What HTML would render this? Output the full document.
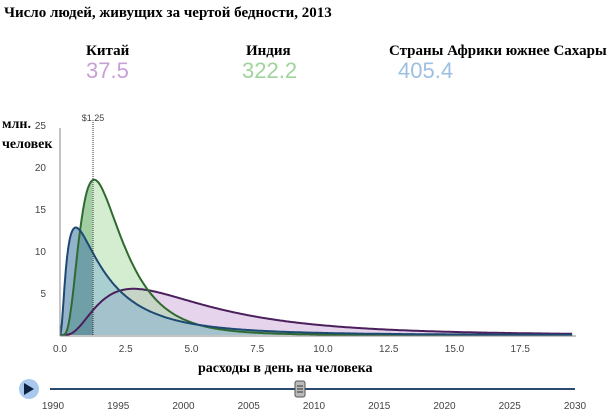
<!DOCTYPE html>
<html><head><meta charset="utf-8"><style>
body{margin:0;background:#fff;width:614px;height:415px;overflow:hidden;font-family:"Liberation Serif",serif}
.t{position:absolute;font-weight:bold;color:#000}
.n{position:absolute;font-family:"Liberation Sans",sans-serif;font-size:22px}
</style></head><body>
<div class="t" style="left:4px;top:5px;font-size:15px">Число людей, живущих за чертой бедности, 2013</div>
<div class="t" style="left:86px;top:43px;font-size:15px">Китай</div>
<div class="t" style="left:246px;top:43px;font-size:15px">Индия</div>
<div class="t" style="left:389px;top:43px;font-size:15px">Страны Африки южнее Сахары</div>
<div class="n" style="left:86px;top:58px;color:#c9a0d6">37.5</div>
<div class="n" style="left:242px;top:58px;color:#9fd49a">322.2</div>
<div class="n" style="left:398px;top:58px;color:#9dbfe0">405.4</div>
<div class="t" style="left:2px;top:117px;font-size:14px">млн.</div>
<div class="t" style="left:2px;top:137px;font-size:14px">человек</div>
<div class="t" style="left:198px;top:361px;font-size:14px">расходы в день на человека</div>
<svg id="s" width="614" height="415" style="position:absolute;left:0;top:0" font-family="Liberation Sans,sans-serif" font-size="10" fill="#444"></svg>
<script>
var s=document.getElementById('s'),X0=60,XS=26.3,Y0=335,YS=8.4,h='';
function px(x){return X0+x*XS}function py(y){return Y0-y*YS}
function curve(mode,sg,peak,xmax){var mu=Math.log(mode)+sg*sg;var f=function(x){return Math.exp(-Math.pow(Math.log(x)-mu,2)/(2*sg*sg))/x};var m=f(mode),pts=[];for(var x=0.02;x<=xmax;x+=0.05){pts.push([x,f(x)/m*peak])}return pts}
function path(pts,lim){var d='M'+px(0)+','+Y0;pts.forEach(function(p){if(p[0]<=lim)d+=' L'+px(p[0]).toFixed(1)+','+py(p[1]).toFixed(1)});var l=Math.min(lim,pts[pts.length-1][0]);return d+' L'+px(l)+','+Y0+' Z'}
function line(pts){var d='M'+px(0)+','+Y0;pts.forEach(function(p){d+=' L'+px(p[0]).toFixed(1)+','+py(p[1]).toFixed(1)});return d}
var P=curve(2.8,0.72,5.5,19.5),G=curve(1.3,0.6,18.5,19.5),B=curve(0.6,1.0,12.8,19.5);
[[P,'rgba(200,160,215,0.45)','rgba(120,80,140,0.35)','#4a1f5c'],[G,'rgba(160,215,150,0.45)','rgba(70,150,80,0.35)','#2f6a30'],[B,'rgba(120,170,210,0.45)','rgba(40,90,130,0.3)','#1d4a72']].forEach(function(c){
h+='<path d="'+path(c[0],99)+'" fill="'+c[1]+'"/>';h+='<path d="'+path(c[0],1.25)+'" fill="'+c[2]+'"/>';});
[[P,'#4a1f5c'],[G,'#2f6a30'],[B,'#1d4a72']].forEach(function(c){h+='<path d="'+line(c[0])+'" fill="none" stroke="'+c[1]+'" stroke-width="2"/>'});
h+='<line x1="60" y1="128" x2="60" y2="336" stroke="#888"/><line x1="60" y1="336" x2="576" y2="336" stroke="#888"/>';
h+='<line x1="93" y1="122" x2="93" y2="336" stroke="#333" stroke-dasharray="1,1"/><text x="93" y="121" text-anchor="middle" font-size="9">$1.25</text>';
[0,5,10,15,20,25].forEach(function(v){h+='<text x="46" y="'+(py(v)+4)+'" text-anchor="end">'+(v?v:'')+'</text>'});
for(var i=0;i<8;i++){h+='<text x="'+px(i*2.5)+'" y="352" text-anchor="middle">'+(i*2.5).toFixed(1)+'</text>'}
h+='<line x1="50" y1="389" x2="575" y2="389" stroke="#2a4a70" stroke-width="2"/>';
h+='<circle cx="29" cy="389" r="10" fill="#a9c8ee"/><path d="M24,383 L34,389 L24,395 Z" fill="#0d2240"/>';
h+='<rect x="295" y="381" width="10" height="16" rx="2" fill="#bbb" stroke="#555"/><path d="M297,386h6M297,389h6M297,392h6" stroke="#333"/>';
for(var y=1990;y<=2030;y+=5){h+='<text x="'+(53+(y-1990)*13.05)+'" y="409" text-anchor="middle">'+y+'</text>'}
s.innerHTML=h;
</script>
</body></html>
